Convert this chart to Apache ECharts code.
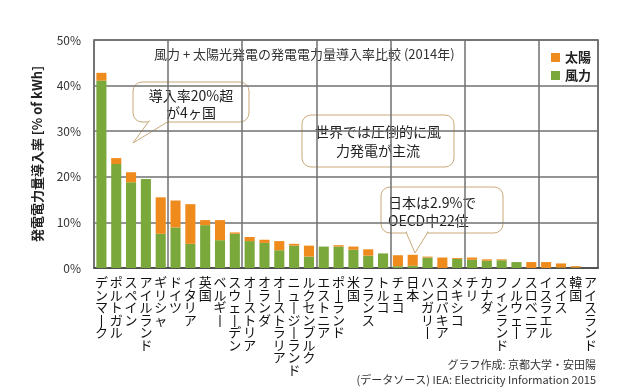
<!DOCTYPE html>
<html><head><meta charset="utf-8">
<script src="https://cdn.jsdelivr.net/npm/echarts@6/dist/echarts.min.js"></script>
<style>html,body{margin:0;padding:0;background:#fff}#c{width:640px;height:389px}</style>
</head><body><div id="c"></div>
<script>
const categories = ['デンマーク','ポルトガル','スペイン','アイルランド','ギリシャ','ドイツ','イタリア','英国','ベルギー','スウェーデン','オーストリア','オランダ','オーストラリア','ニュージーランド','ルクセンブルク','エストニア','ポーランド','米国','フランス','トルコ','チェコ','日本','ハンガリー','スロバキア','メキシコ','チリ','カナダ','フィンランド','ノルウェー','スロベニア','イスラエル','スイス','韓国','アイスランド'];
const wind  = [41.1,22.8,18.8,19.5,7.5,8.9,5.3,9.4,6.1,7.5,5.9,5.5,3.9,4.9,2.5,4.7,4.7,4.0,2.7,3.2,0.4,0.5,2.3,0.0,2.0,1.8,1.6,1.7,1.3,0.0,0.0,0.1,0.1,0.02];
const solar = [1.7,1.3,2.2,0.0,8.0,5.9,8.7,1.1,4.4,0.3,0.9,0.7,2.0,0.4,2.4,0.0,0.3,0.7,1.4,0.0,2.4,2.4,0.2,2.3,0.2,0.5,0.3,0.2,0.0,1.3,1.3,0.9,0.3,0.0];
const yTicks = [0,10,20,30,40,50];

const FONT = '"Noto Sans CJK JP", "Noto Sans", sans-serif';
const chart = echarts.init(document.getElementById('c'));
const box = (x,y,w,h) => ({type:'rect', shape:{x:x,y:y,width:w,height:h,r:9}, style:{fill:'#fff',stroke:'#C9A878',lineWidth:1}});
const txt = (x,y,t,align) => ({type:'text',x:x,y:y,style:{text:t,fontSize:14,fill:'#222',align:align||'center',verticalAlign:'middle',fontFamily:FONT}});
chart.setOption({
  animation:false,
  textStyle:{fontFamily:FONT},
  grid:{left:94,right:42,top:40,bottom:121,show:true,borderColor:'#555',borderWidth:1.5},
  legend:{data:['太陽','風力'],orient:'vertical',left:546,top:46,itemWidth:9,itemHeight:9,itemGap:5,icon:'rect',
    textStyle:{fontSize:13,fontWeight:'bold',color:'#222',fontFamily:FONT}},
  xAxis:{type:'category',data:categories,
    axisLine:{show:true,lineStyle:{color:'#444',width:1.5}},axisTick:{show:false},
    splitLine:{show:true,interval:function(i){return i%5===0;},lineStyle:{color:'#707070',width:1.5}},
    axisLabel:{interval:0,margin:8,fontSize:13,lineHeight:12.5,color:'#111',verticalAlign:'top',
      formatter:function(v){return v.replace(/ー/g,'丨').split('').join('\n');}}},
  yAxis:{type:'value',min:yTicks[0],max:yTicks[yTicks.length-1],interval:10,
    name:'発電電力量導入率 [% of kWh]',nameLocation:'middle',nameRotate:90,nameGap:50,
    nameTextStyle:{fontSize:13,fontWeight:'bold',color:'#222'},
    axisLine:{show:false},axisTick:{show:false},
    axisLabel:{formatter:'{value}%',fontSize:12,color:'#333',margin:13},
    splitLine:{lineStyle:{color:'#707070',width:1.5}}},
  series:[
    {name:'風力',type:'bar',stack:'t',data:wind,barCategoryGap:'32%',itemStyle:{color:'#7BA83B'}},
    {name:'太陽',type:'bar',stack:'t',data:solar,barCategoryGap:'32%',itemStyle:{color:'#EF8B1D'}}
  ],
  graphic:[
    {type:'text',left:154,top:48,style:{text:'風力 + 太陽光発電の発電電力量導入率比較 (2014年)',fontSize:13,fill:'#333',fontFamily:FONT}},
    {type:'group',children:[
      box(133,82,116,40),
      {type:'polygon',shape:{points:[[149,121],[133,143],[169,121]]},style:{fill:'#fff',stroke:'#C9A878',lineWidth:1}},
      {type:'rect',shape:{x:150,y:119,width:18,height:3},style:{fill:'#fff'}},
      txt(191,96,'導入率20%超'), txt(191,113,'が4ヶ国')
    ]},
    {type:'group',children:[
      box(302,115,152,52),
      txt(378,132,'世界では圧倒的に風'), txt(378,151,'力発電が主流')
    ]},
    {type:'group',children:[
      box(381,187,122,46),
      {type:'polygon',shape:{points:[[406,232],[415,253],[428,232]]},style:{fill:'#fff',stroke:'#C9A878',lineWidth:1}},
      {type:'rect',shape:{x:407,y:230,width:20,height:3},style:{fill:'#fff'}},
      txt(388,203,'日本は2.9%で','left'), txt(388,221,'OECD中22位','left')
    ]},
    {type:'text',right:44,top:359,style:{text:'グラフ作成: 京都大学・安田陽',fontSize:11,fill:'#333',fontFamily:FONT}},
    {type:'text',right:44,top:374,style:{text:'(データソース) IEA: Electricity Information 2015',fontSize:11,fill:'#333',fontFamily:FONT}}
  ]
});
</script></body></html>
